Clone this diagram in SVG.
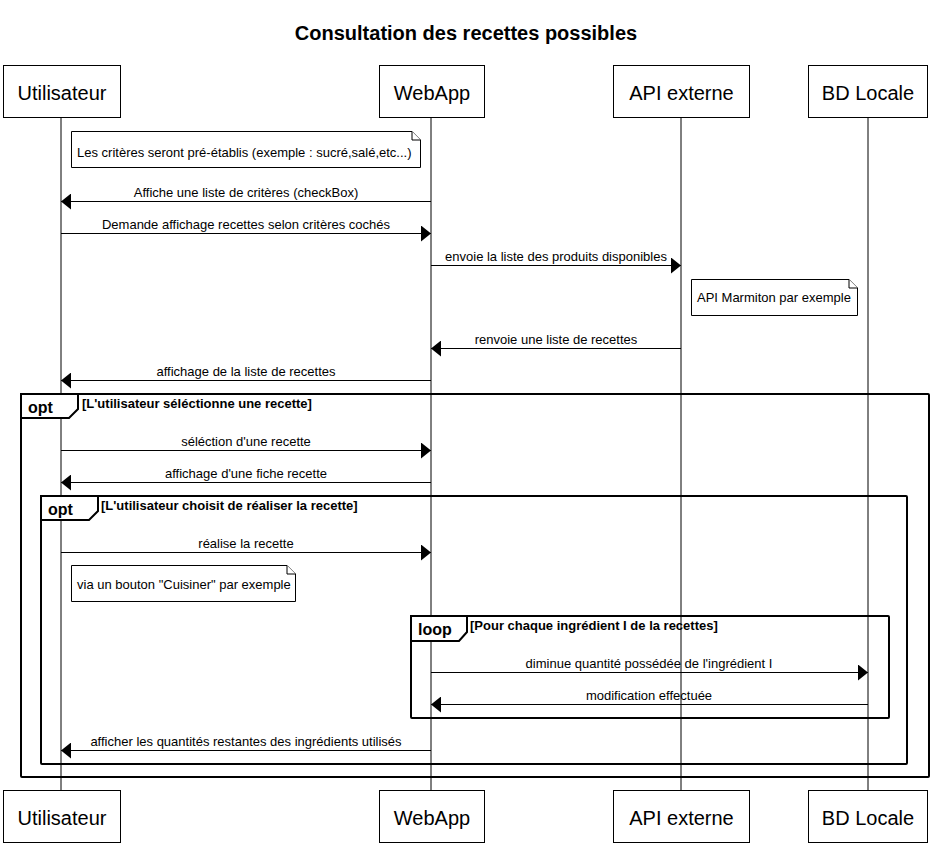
<svg xmlns="http://www.w3.org/2000/svg" width="934" height="846" viewBox="0 0 934 846">
<defs>
<marker id="ah" viewBox="0 0 10 16" refX="10" refY="8" markerWidth="10" markerHeight="16" orient="auto" markerUnits="userSpaceOnUse">
<path d="M0,0 L10,8 L0,16 z" fill="#000"/>
</marker>
</defs>
<style>
.t{font-family:"Liberation Sans",Arial,sans-serif;fill:#000}
.title{font-size:20px;font-weight:bold;text-anchor:middle}
.pbox{fill:#fff;stroke:#000;stroke-width:1}
.ptxt{font-size:20px;text-anchor:middle}
.life{stroke:#000;stroke-width:1;fill:none}
.msg{stroke:#000;stroke-width:1;fill:none;marker-end:url(#ah)}
.mtxt{font-size:13px;text-anchor:middle}
.note{fill:#fff;stroke:#000;stroke-width:1}
.ntxt{font-size:13px}
.frame{fill:none;stroke:#000;stroke-width:2}
.tab{fill:#fff;stroke:#000;stroke-width:2}
.ftag{font-size:16px;font-weight:bold}
.fcond{font-size:13px;font-weight:bold}
</style>
<rect width="934" height="846" fill="#fff"/>
<text class="t title" x="466" y="40">Consultation des recettes possibles</text>

<g id="lifelines">
<line class="life" x1="61" y1="118" x2="61" y2="790"/>
<line class="life" x1="431" y1="118" x2="431" y2="790"/>
<line class="life" x1="681" y1="118" x2="681" y2="790"/>
<line class="life" x1="868" y1="118" x2="868" y2="790"/>
</g>

<g id="frames">
<g id="opt1">
<rect class="frame" x="21" y="394" width="908" height="383" rx="1"/>
<path class="tab" d="M21,394 H78 V409 L69,418 H21 Z"/>
<text class="t ftag" x="28" y="413">opt</text>
<text class="t fcond" x="82" y="408">[L'utilisateur séléctionne une recette]</text>
</g>
<g id="opt2">
<rect class="frame" x="41" y="496" width="866" height="268" rx="1"/>
<path class="tab" d="M41,496 H98 V511 L89,520 H41 Z"/>
<text class="t ftag" x="48" y="515">opt</text>
<text class="t fcond" x="101" y="510">[L'utilisateur choisit de réaliser la recette]</text>
</g>
<g id="loop1">
<rect class="frame" x="411" y="616" width="478" height="102" rx="1"/>
<path class="tab" d="M411,616 H467 V632 L459,641 H411 Z"/>
<text class="t ftag" x="418" y="635">loop</text>
<text class="t fcond" x="470" y="630">[Pour chaque ingrédient I de la recettes]</text>
</g>
</g>

<g id="connectors">
<line class="msg" x1="431" y1="201.5" x2="61" y2="201.5"/>
<text class="t mtxt" x="246" y="196.5">Affiche une liste de critères (checkBox)</text>
<line class="msg" x1="61" y1="233.5" x2="431" y2="233.5"/>
<text class="t mtxt" x="246" y="228.5">Demande affichage recettes selon critères cochés</text>
<line class="msg" x1="431" y1="265.5" x2="681" y2="265.5"/>
<text class="t mtxt" x="556" y="260.5">envoie la liste des produits disponibles</text>
<line class="msg" x1="681" y1="348.5" x2="431" y2="348.5"/>
<text class="t mtxt" x="556" y="343.5">renvoie une liste de recettes</text>
<line class="msg" x1="431" y1="380.5" x2="61" y2="380.5"/>
<text class="t mtxt" x="246" y="375.5">affichage de la liste de recettes</text>
<line class="msg" x1="61" y1="450.5" x2="431" y2="450.5"/>
<text class="t mtxt" x="246" y="445.5">séléction d'une recette</text>
<line class="msg" x1="431" y1="482.5" x2="61" y2="482.5"/>
<text class="t mtxt" x="246" y="477.5">affichage d'une fiche recette</text>
<line class="msg" x1="61" y1="552.5" x2="431" y2="552.5"/>
<text class="t mtxt" x="246" y="547.5">réalise la recette</text>
<line class="msg" x1="431" y1="672.5" x2="868" y2="672.5"/>
<text class="t mtxt" x="649" y="667.5">diminue quantité possédée de l'ingrédient I</text>
<line class="msg" x1="868" y1="704.5" x2="431" y2="704.5"/>
<text class="t mtxt" x="649" y="699.5">modification effectuée</text>
<line class="msg" x1="431" y1="750.5" x2="61" y2="750.5"/>
<text class="t mtxt" x="246" y="745.5">afficher les quantités restantes des ingrédients utilisés</text>
</g>

<g id="note1">
<path class="note" d="M71.5,131.5 H412 L420.5,140 V167.5 H71.5 Z"/>
<path class="note" d="M412,131.5 V140 H420.5" fill="none"/>
<text class="t ntxt" x="77" y="157">Les critères seront pré-établis (exemple : sucré,salé,etc...)</text>
</g>
<g id="note2">
<path class="note" d="M691.5,279.5 H849 L857.5,288 V315.5 H691.5 Z"/>
<path class="note" d="M849,279.5 V288 H857.5" fill="none"/>
<text class="t ntxt" x="697" y="302">API Marmiton par exemple</text>
</g>
<g id="note3">
<path class="note" d="M71.5,565.5 H287 L295.5,574 V601.5 H71.5 Z"/>
<path class="note" d="M287,565.5 V574 H295.5" fill="none"/>
<text class="t ntxt" x="77" y="589">via un bouton "Cuisiner" par exemple</text>
</g>

<g id="p-utilisateur">
<rect class="pbox" x="3.5" y="65.5" width="117" height="52"/>
<text class="t ptxt" x="62" y="100">Utilisateur</text>
<rect class="pbox" x="3.5" y="790.5" width="117" height="52"/>
<text class="t ptxt" x="62" y="825">Utilisateur</text>
</g>
<g id="p-webapp">
<rect class="pbox" x="379.5" y="65.5" width="105" height="52"/>
<text class="t ptxt" x="432" y="100">WebApp</text>
<rect class="pbox" x="379.5" y="790.5" width="105" height="52"/>
<text class="t ptxt" x="432" y="825">WebApp</text>
</g>
<g id="p-api">
<rect class="pbox" x="613.5" y="65.5" width="136" height="52"/>
<text class="t ptxt" x="681.5" y="100">API externe</text>
<rect class="pbox" x="613.5" y="790.5" width="136" height="52"/>
<text class="t ptxt" x="681.5" y="825">API externe</text>
</g>
<g id="p-bd">
<rect class="pbox" x="808.5" y="65.5" width="119" height="52"/>
<text class="t ptxt" x="868" y="100">BD Locale</text>
<rect class="pbox" x="808.5" y="790.5" width="119" height="52"/>
<text class="t ptxt" x="868" y="825">BD Locale</text>
</g>
</svg>
